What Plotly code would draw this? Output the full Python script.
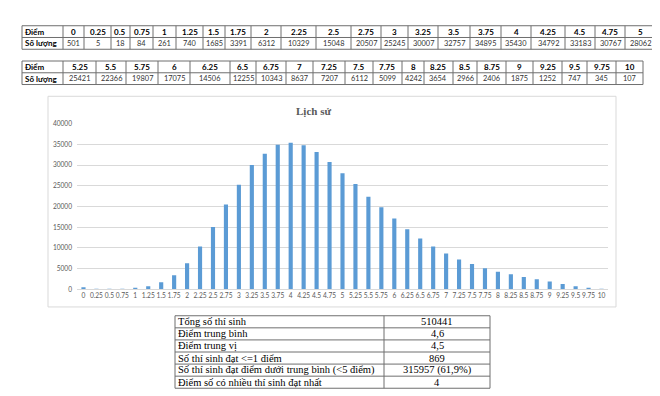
import plotly.graph_objects as go

# ---------------- data ----------------
scores = ["0", "0.25", "0.5", "0.75", "1", "1.25", "1.5", "1.75", "2", "2.25", "2.5",
          "2.75", "3", "3.25", "3.5", "3.75", "4", "4.25", "4.5", "4.75", "5",
          "5.25", "5.5", "5.75", "6", "6.25", "6.5", "6.75", "7", "7.25", "7.5",
          "7.75", "8", "8.25", "8.5", "8.75", "9", "9.25", "9.5", "9.75", "10"]
counts = [501, 5, 18, 84, 261, 740, 1685, 3391, 6312, 10329, 15048,
          20507, 25245, 30007, 32757, 34895, 35430, 34792, 33183, 30767, 28062,
          25421, 22366, 19807, 17075, 14506, 12255, 10343, 8637, 7207, 6112,
          5099, 4242, 3654, 2966, 2406, 1875, 1252, 747, 345, 107]

row_label_score = "Điểm"
row_label_count = "Số lượng"
chart_title = "Lịch sử"

stat_labels = ["Tổng số thí sinh", "Điểm trung bình", "Điểm trung vị",
               "Số thí sinh đạt <=1 điểm",
               "Số thí sinh đạt điểm dưới trung bình (<5 điểm)",
               "Điểm số có nhiều thí sinh đạt nhất"]
stat_values = ["510441", "4,6", "4,5", "869", "315957 (61,9%)", "4"]

# ---------------- layout helpers ----------------
W, H = 660, 396


def px(x):
    return x / W


def py(y):
    return 1 - y / H


split = 21
widths1 = [41, 21, 27, 19, 23, 23, 27, 22, 26, 30, 35, 35, 30, 27, 30, 32, 31, 30, 34, 30, 30, 31]
widths2 = [41, 33, 30, 32, 32, 40, 26, 30, 27, 32, 28, 29, 22, 29, 24, 29, 27, 29, 25, 29, 27]

border = "#6F6F6F"
tfont = "Lato"
shapes = []
annotations = []


def grid_table(rows, widths, x0, y0, rh, aligns, fonts):
    """rows: list of rows of strings; draws borders + text via shapes/annotations."""
    edges = [x0]
    for w in widths:
        edges.append(edges[-1] + w)
    nrow = len(rows)
    y1 = y0 + rh * nrow
    for e in edges:
        shapes.append(dict(type="line", xref="paper", yref="paper",
                           x0=px(e), x1=px(e), y0=py(y0), y1=py(y1),
                           line=dict(color=border, width=1)))
    for r in range(nrow + 1):
        yy = y0 + rh * r
        shapes.append(dict(type="line", xref="paper", yref="paper",
                           x0=px(edges[0]), x1=px(edges[-1]), y0=py(yy), y1=py(yy),
                           line=dict(color=border, width=1)))
    for r, row in enumerate(rows):
        yc = y0 + rh * (r + 0.5)
        for c, txt in enumerate(row):
            al = aligns[c]
            if al == "left":
                xx, xa = edges[c] + 2, "left"
            else:
                xx, xa = (edges[c] + edges[c + 1]) / 2, "center"
            annotations.append(dict(text=txt, xref="paper", yref="paper",
                                    x=px(xx), y=py(yc), xanchor=xa, yanchor="middle",
                                    showarrow=False, borderpad=0,
                                    font=fonts(r, c)))


def score_font(r, c):
    if r == 0 or c == 0:
        return dict(family=tfont, size=8, color="black")
    return dict(family=tfont, size=7.4, color="#333333")


def score_rows(sc, ct):
    return [["<b>" + row_label_score + "</b>"] + ["<b>" + s + "</b>" for s in sc],
            ["<b>" + row_label_count + "</b>"] + [str(c) for c in ct]]


grid_table(score_rows(scores[:split], counts[:split]), widths1, 14, 13, 12,
           ["left"] + ["center"] * split, score_font)
grid_table(score_rows(scores[split:], counts[split:]), widths2, 14, 49, 12,
           ["left"] + ["center"] * (len(scores) - split), score_font)

grid_table([[l, v] for l, v in zip(stat_labels, stat_values)], [209, 106], 167, 309, 12.33,
           ["left", "center"],
           lambda r, c: dict(family="Liberation Serif", size=10.5, color="black"))

# ---------------- bar chart ----------------
fig = go.Figure()
fig.add_trace(go.Bar(x=scores, y=counts, marker=dict(color="#5B9BD5", line=dict(width=0)),
                     showlegend=False))

shapes.insert(0, dict(type="rect", xref="paper", yref="paper",
                      x0=px(40), x1=px(608), y0=py(300), y1=py(85),
                      line=dict(color="#D9D9D9", width=1), layer="below"))
annotations.append(dict(text="<b>" + chart_title + "</b>", xref="paper", yref="paper",
                        x=px(305), y=py(100), xanchor="center", yanchor="middle",
                        showarrow=False,
                        font=dict(family="Liberation Serif", size=11, color="#595959")))

fig.update_layout(
    width=W, height=H,
    margin=dict(l=0, r=0, t=0, b=0),
    paper_bgcolor="white", plot_bgcolor="white",
    bargap=0.68,
    xaxis=dict(domain=[px(69), px(600)], type="category", tickmode="linear", dtick=1,
               tickangle=0, showgrid=False, showline=True, linecolor="#D9D9D9",
               ticks="", tickfont=dict(family="Lato", size=6.6, color="#595959"),
               fixedrange=True),
    yaxis=dict(domain=[py(282), py(113)], range=[0, 40000], dtick=5000, tickformat="d",
               showgrid=True, gridcolor="#D9D9D9", zeroline=False, showline=False,
               ticks="", tickfont=dict(family="Lato", size=6.6, color="#595959"),
               ticklabelstandoff=4, fixedrange=True),
    shapes=shapes,
    annotations=annotations,
)

fig.write_html("out.html")
